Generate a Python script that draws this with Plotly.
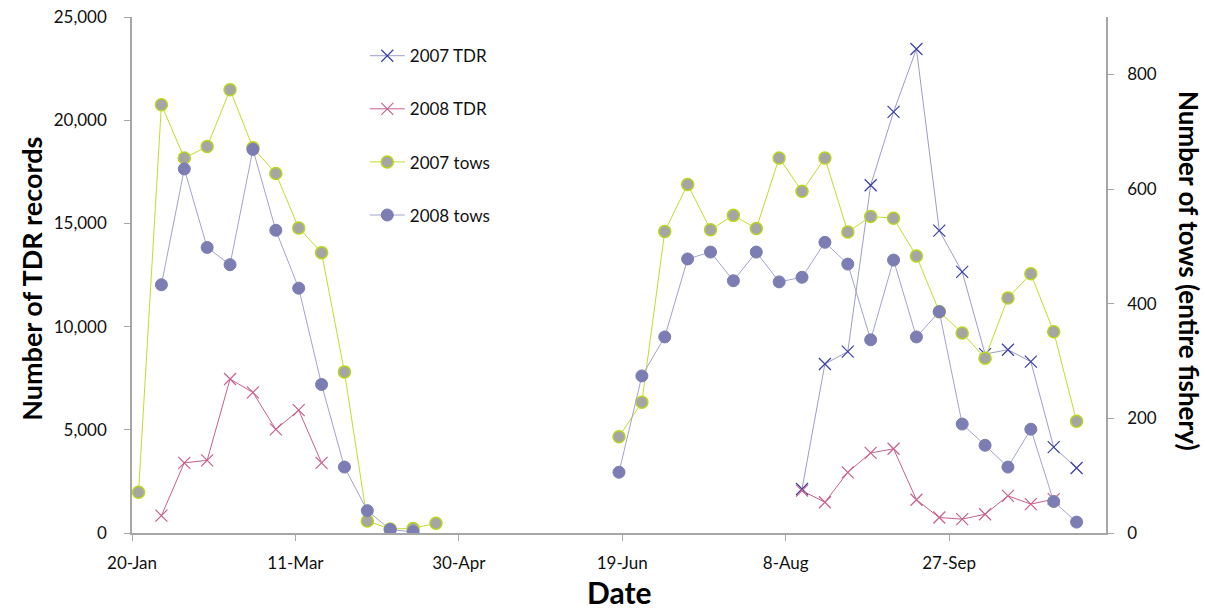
import pandas as pd
import plotly.graph_objects as go

# weekly sample dates (week index 0..41 starting 22-Jan)
week_dates = pd.date_range("2007-01-22", periods=42, freq="7D")

N = None
tdr_2007 = [N] * 29 + [2130, 8190, 8790, 16850, 20400, 23450, 14650, 12650, 8670, 8880, 8300, 4160, 3150]
tdr_2008 = [N, 840, 3400, 3520, 7460, 6810, 5020, 5950, 3400] + [N] * 20 + \
           [2050, 1490, 2940, 3880, 4080, 1610, 750, 670, 910, 1800, 1400, 1640, N]
tows_2007 = [71, 747, 654, 674, 773, 672, 627, 532, 489, 281, 21, 7, 8, 17] + [N] * 7 + \
            [168, 228, 526, 608, 529, 554, 531, 654, 596, 654, 525, 552, 549, 483, 386, 349, 305, 410, 452, 351, 195]
tows_2008 = [N, 433, 635, 498, 468, 669, 528, 427, 259, 115, 39, 6, 2, N] + [N] * 7 + \
            [106, 274, 342, 478, 490, 440, 490, 438, 446, 507, 469, 337, 476, 342, 386, 190, 153, 115, 181, 55, 19]

x_tick_vals = ["2007-01-20", "2007-03-11", "2007-04-30", "2007-06-19", "2007-08-08", "2007-09-27"]
x_tick_text = ["20-Jan", "11-Mar", "30-Apr", "19-Jun", "8-Aug", "27-Sep"]
left_ticks = [0, 5000, 10000, 15000, 20000, 25000]
left_tick_text = ["0", "5,000", "10,000", "15,000", "20,000", "25,000"]
right_ticks = [0, 200, 400, 600, 800]

FONT = "Lato"
fig = go.Figure()

fig.add_trace(go.Scatter(
    x=week_dates, y=tdr_2007, name="2007 TDR", mode="lines+markers", legendgroup="a",
    line=dict(color="#9C9CCB", width=1),
    marker=dict(symbol="x-thin", size=12, line=dict(color="#3B3DAA", width=1.2)),
))
fig.add_trace(go.Scatter(
    x=week_dates, y=tdr_2008, name="2008 TDR", mode="lines+markers", legendgroup="b",
    line=dict(color="#C8608E", width=1),
    marker=dict(symbol="x-thin", size=12, line=dict(color="#C8608E", width=1.2)),
))
fig.add_trace(go.Scatter(
    x=week_dates, y=tows_2007, name="2007 tows", mode="lines+markers", legendgroup="c", yaxis="y2",
    line=dict(color="#C5DC2A", width=1),
    marker=dict(symbol="circle", size=12, color="#A5A5A5", line=dict(color="#B7D61C", width=1.5)),
))
fig.add_trace(go.Scatter(
    x=week_dates, y=tows_2008, name="2008 tows", mode="lines+markers", legendgroup="d", yaxis="y2",
    line=dict(color="#A2A2D0", width=1),
    marker=dict(symbol="circle", size=12, color="#7B7DB3", line=dict(color="#7B7DB3", width=1)),
))

axis_line = "#A6A6A6"
fig.update_layout(
    width=1205, height=611,
    margin=dict(l=132, r=99, t=17, b=78, autoexpand=False),
    paper_bgcolor="white", plot_bgcolor="white",
    font=dict(family=FONT, size=17, color="#1a1a1a"),
    showlegend=True,
    legend=dict(x=0.239, y=0.959, xanchor="left", yanchor="top", bgcolor="rgba(0,0,0,0)",
                traceorder="grouped", tracegroupgap=28, font=dict(family=FONT, size=17, color="#111"),
                itemwidth=35),
    xaxis=dict(
        range=["2007-01-20", "2007-11-14"], type="date", automargin=False,
        tickvals=x_tick_vals, ticktext=x_tick_text, ticklabeloverflow="allow",
        showline=True, linecolor=axis_line, linewidth=1.5,
        ticks="outside", ticklen=6, tickcolor=axis_line, showgrid=False, zeroline=False,
        tickfont=dict(size=17, color="#111"), ticklabelstandoff=8,
    ),
    yaxis=dict(
        range=[0, 25000], tickvals=left_ticks, ticktext=left_tick_text, automargin=False,
        ticklabeloverflow="allow",
        showline=True, linecolor=axis_line, linewidth=1.5,
        ticks="outside", ticklen=6, tickcolor=axis_line, showgrid=False, zeroline=False,
        tickfont=dict(size=17, color="#111"), ticklabelstandoff=14,
    ),
    yaxis2=dict(
        range=[0, 900], tickvals=right_ticks, overlaying="y", side="right", automargin=False,
        ticklabeloverflow="allow",
        showline=True, linecolor=axis_line, linewidth=1.5,
        ticks="outside", ticklen=6, tickcolor=axis_line, showgrid=False, zeroline=False,
        tickfont=dict(size=17, color="#111"), ticklabelstandoff=10,
    ),
    annotations=[
        dict(text="<b>Number of TDR records</b>", xref="paper", yref="paper", x=-0.104, y=0.492,
             xanchor="center", yanchor="middle", textangle=-90, showarrow=False,
             font=dict(family=FONT, size=27, color="#000")),
        dict(text="<b>Number of tows (entire fishery)</b>", xref="paper", yref="paper", x=1.085, y=0.508,
             xanchor="center", yanchor="middle", textangle=90, showarrow=False,
             font=dict(family=FONT, size=26, color="#000")),
        dict(text="<b>Date</b>", xref="paper", yref="paper", x=0.501, y=-0.115,
             xanchor="center", yanchor="middle", showarrow=False,
             font=dict(family=FONT, size=30, color="#000")),
    ],
)

fig.write_html("out.html", config={"displayModeBar": False},
               post_script="document.body.style.margin='0';")
